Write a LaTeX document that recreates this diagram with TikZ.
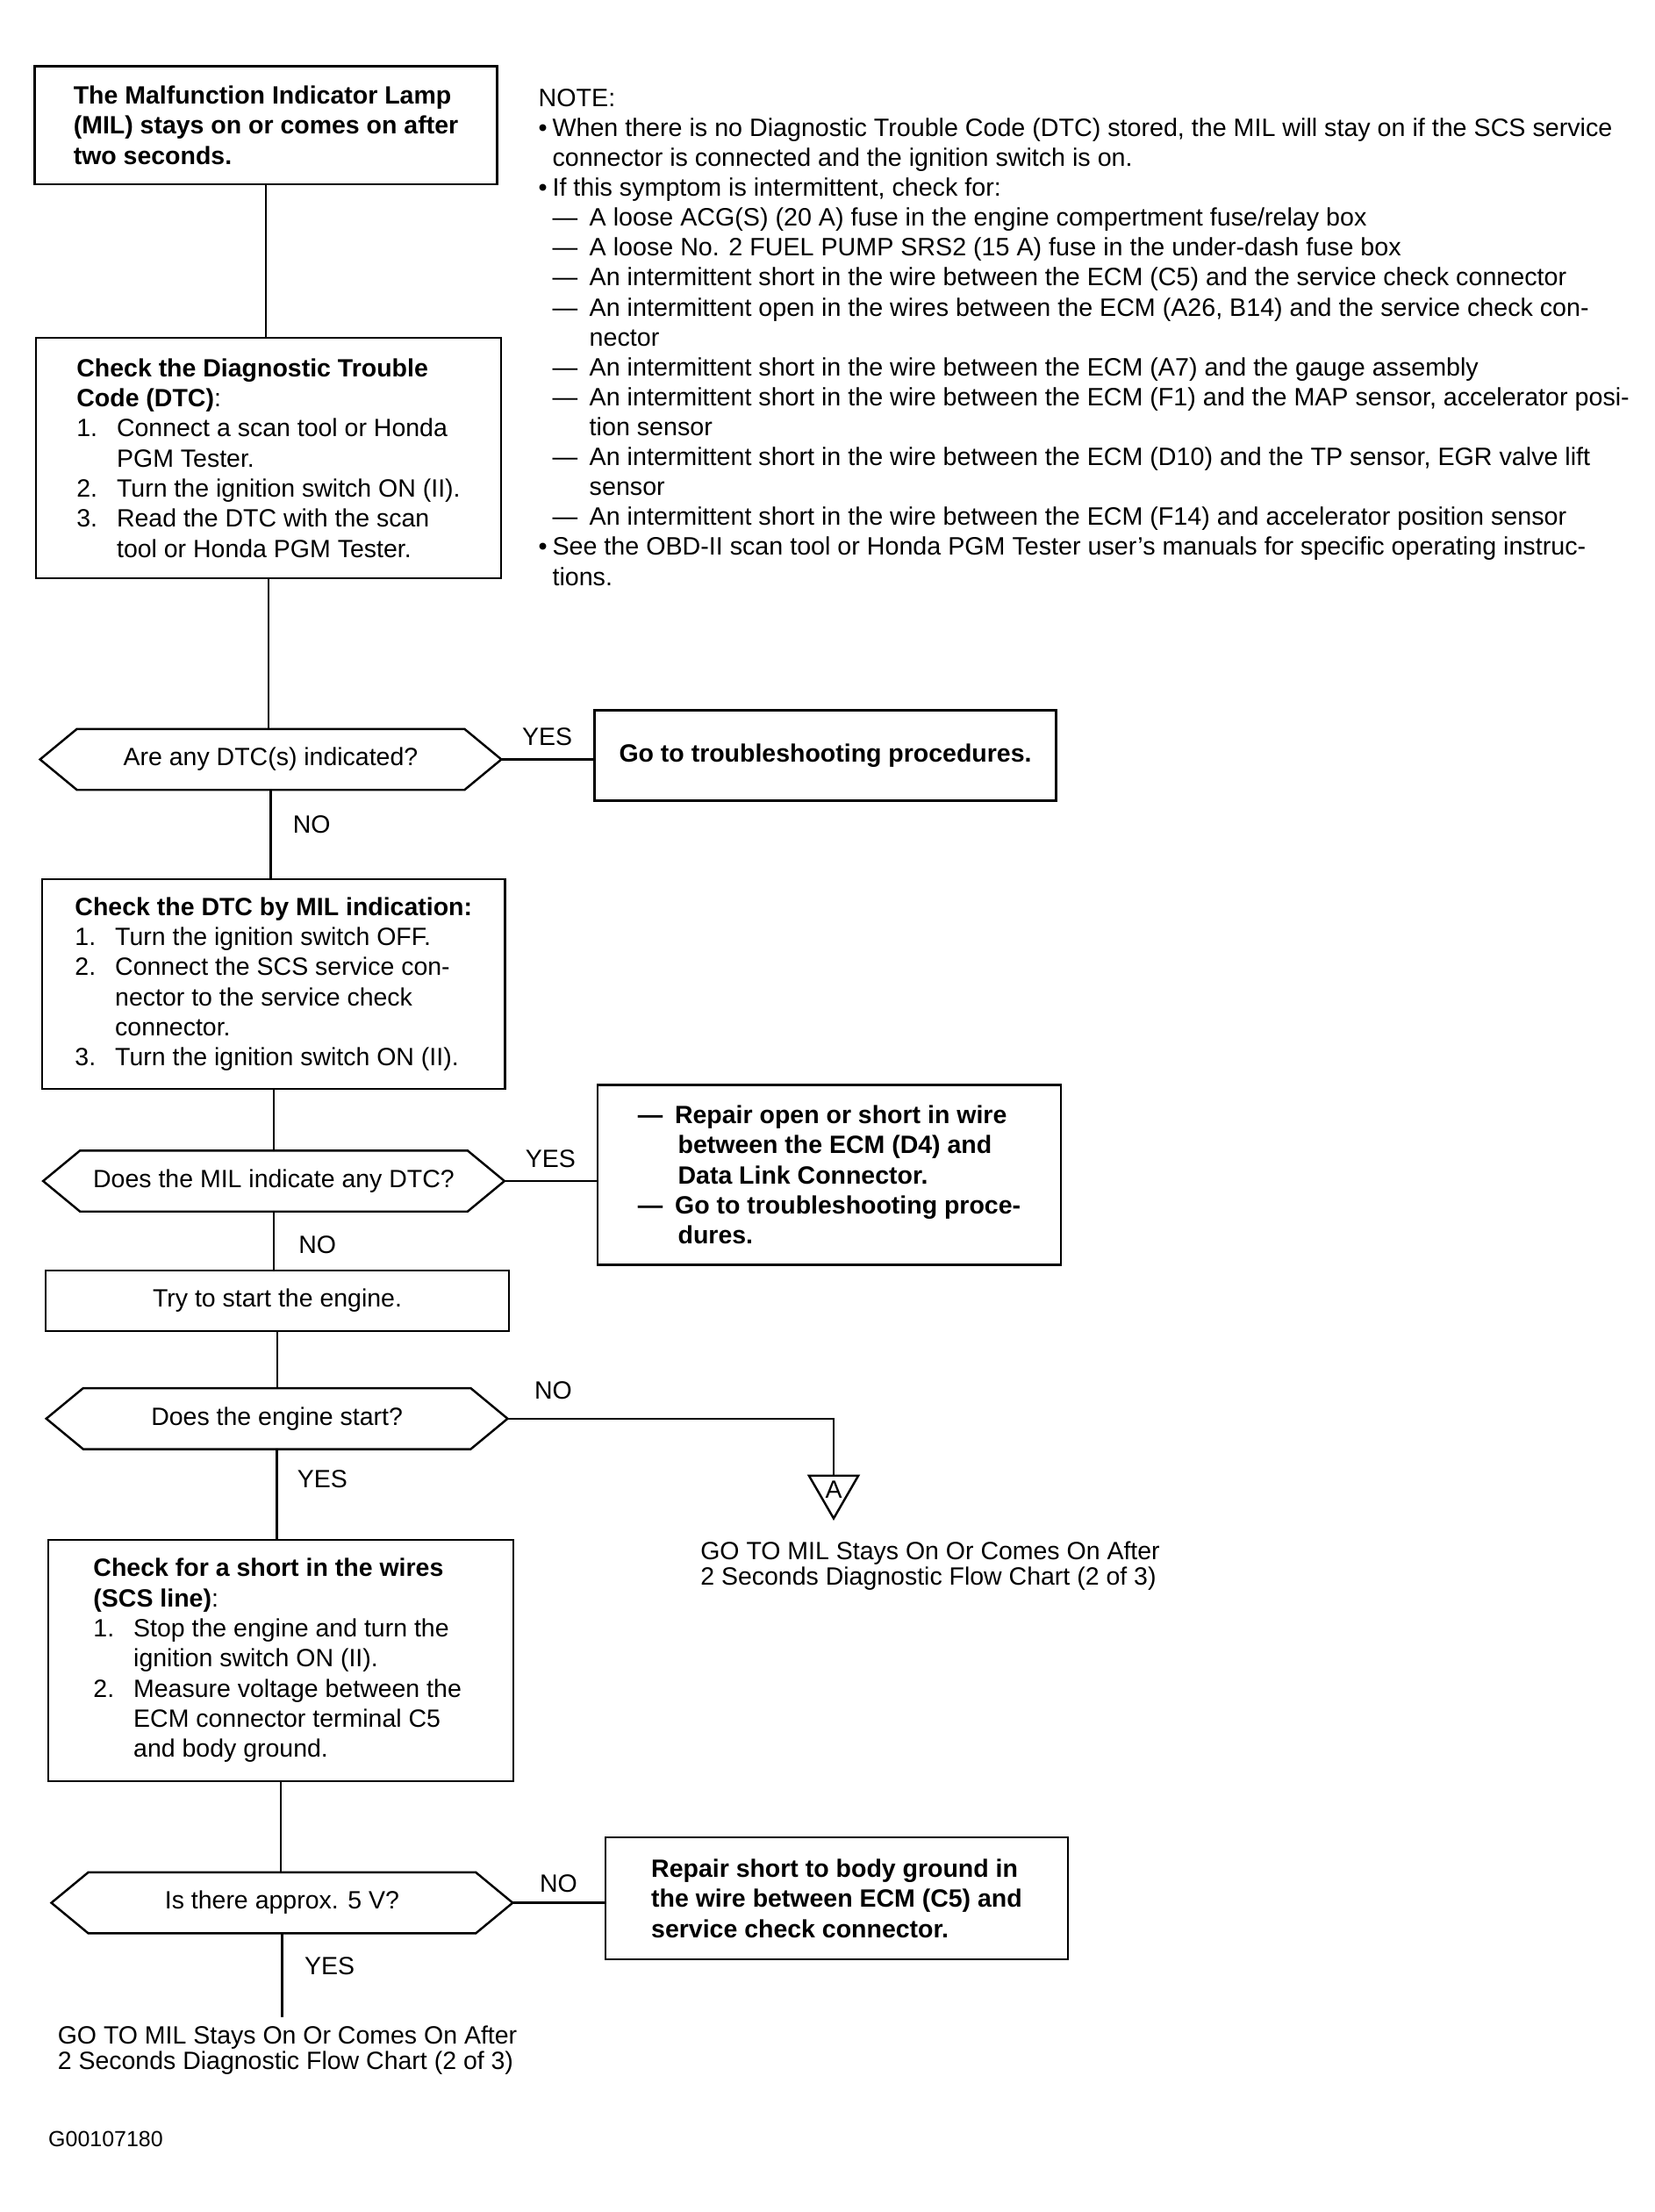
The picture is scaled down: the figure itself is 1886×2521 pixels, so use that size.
\documentclass[tikz,border=0pt]{standalone}
\usepackage{fontspec}
\setmainfont{Liberation Sans}
\usepackage{tikz}
\usetikzlibrary{positioning, shapes.geometric}

\newcommand{\chartsize}{\fontsize{8.1pt}{9.76pt}\selectfont}
\newcommand{\stepno}[1]{\makebox[13pt][l]{#1}}
\newcommand{\stepgap}{\hspace*{13pt}}
\newcommand{\dashmark}{\makebox[12pt][l]{---}}
\newcommand{\bul}{\makebox[4.5pt][l]{•}}
\newcommand{\bulgap}{\hspace*{4.5pt}}
\newcommand{\notedash}{\bulgap\makebox[12pt][l]{---}}
\newcommand{\notegap}{\hspace*{16.5pt}}
\newcommand{\slant}{0.42cm}
% hexagon frame round a question node, plus its right tip
\newcommand{\hexframe}[1]{%
  \draw[flow] (#1.north west) -- (#1.north east) -- ([xshift=\slant]#1.east)
    -- (#1.south east) -- (#1.south west) -- ([xshift=-\slant]#1.west) -- cycle;
  \coordinate (#1tip) at ([xshift=\slant]#1.east);}

\tikzset{
  every node/.style={font=\chartsize},
  flow/.style={line width=0.7pt},
  box/.style={draw, flow, rectangle, inner sep=0pt, align=left},
  plainbox/.style={box, align=center},
  quest/.style={rectangle, inner sep=0pt, minimum width=4.4cm, minimum height=0.68cm, align=center},
  answer/.style={inner sep=2pt},
  jump/.style={draw, flow, regular polygon, regular polygon sides=3, shape border rotate=180,
    minimum size=0.65cm, inner sep=0pt},
  gototext/.style={align=left, inner sep=0.1cm, font=\fontsize{8.1pt}{8.2pt}\selectfont},
}

\begin{document}
\begin{tikzpicture}[x=0.01cm, y=-0.01cm]
\useasboundingbox (0,0) rectangle (1886,2521);

% start box
\node[box, minimum width=5.27cm, minimum height=1.344cm, font=\chartsize\bfseries] (lamp) at (303,142.6)
  {The Malfunction Indicator Lamp\\(MIL) stays on or comes on after\\two seconds.};

% note block
\node[align=left, inner sep=0pt, anchor=north west, font=\fontsize{8.15pt}{9.7pt}\selectfont] (note) at (613,100.5)
  {NOTE:\\
   \bul When there is no Diagnostic Trouble Code (DTC) stored, the MIL will stay on if the SCS service\\
   \bulgap connector is connected and the ignition switch is on.\\
   \bul If this symptom is intermittent, check for:\\
   \notedash A loose ACG(S) (20 A) fuse in the engine compertment fuse/relay box\\
   \notedash A loose No. 2 FUEL PUMP SRS2 (15 A) fuse in the under-dash fuse box\\
   \notedash An intermittent short in the wire between the ECM (C5) and the service check connector\\
   \notedash An intermittent open in the wires between the ECM (A26, B14) and the service check con-\\
   \notegap nector\\
   \notedash An intermittent short in the wire between the ECM (A7) and the gauge assembly\\
   \notedash An intermittent short in the wire between the ECM (F1) and the MAP sensor, accelerator posi-\\
   \notegap tion sensor\\
   \notedash An intermittent short in the wire between the ECM (D10) and the TP sensor, EGR valve lift\\
   \notegap sensor\\
   \notedash An intermittent short in the wire between the ECM (F14) and accelerator position sensor\\
   \bul See the OBD-II scan tool or Honda PGM Tester user’s manuals for specific operating instruc-\\
   \bulgap tions.};

% read the DTC
\node[box, minimum width=5.30cm, minimum height=2.74cm] (dtcread) at (306,522)
  {\textbf{Check the Diagnostic Trouble}\\\textbf{Code (DTC)}:\\
   \stepno{1.}Connect a scan tool or Honda\\\stepgap PGM Tester.\\
   \stepno{2.}Turn the ignition switch ON (II).\\
   \stepno{3.}Read the DTC with the scan\\\stepgap tool or Honda PGM Tester.};

% first question
\node[quest] (q1) at (308.5,865.5) {Are any DTC(s) indicated?};
\hexframe{q1}
\node[plainbox, minimum width=5.26cm, minimum height=1.03cm, font=\chartsize\bfseries] (gotrouble) at (940.5,861)
  {Go to troubleshooting procedures.};

% MIL indication
\node[box, minimum width=5.275cm, minimum height=2.39cm] (milcheck) at (311.8,1121.5)
  {\textbf{Check the DTC by MIL indication:}\\
   \stepno{1.}Turn the ignition switch OFF.\\
   \stepno{2.}Connect the SCS service con-\\\stepgap nector to the service check\\\stepgap connector.\\
   \stepno{3.}Turn the ignition switch ON (II).};

% second question
\node[quest] (q2) at (312,1346) {Does the MIL indicate any DTC?};
\hexframe{q2}
\node[box, minimum width=5.275cm, minimum height=2.05cm, font=\chartsize\bfseries] (repairdlc) at (945,1339)
  {\dashmark Repair open or short in wire\\\stepgap between the ECM (D4) and\\\stepgap Data Link Connector.\\
   \dashmark Go to troubleshooting proce-\\\stepgap dures.};

% engine start
\node[plainbox, minimum width=5.28cm, minimum height=0.69cm] (trystart) at (316,1482.5) {Try to start the engine.};
\node[quest] (q3) at (315.6,1616.8) {Does the engine start?};
\hexframe{q3}
\node[jump] (jumpA) at (950,1698) {A};
\node[gototext] (gotop) at (1060,1785)
  {GO TO MIL Stays On Or Comes On After\\2 Seconds Diagnostic Flow Chart (2 of 3)};

% SCS line check
\node[box, minimum width=5.296cm, minimum height=2.75cm] (shortcheck) at (320,1892.5)
  {\textbf{Check for a short in the wires}\hspace*{8pt}\\\textbf{(SCS line)}:\\
   \stepno{1.}Stop the engine and turn the\\\stepgap ignition switch ON (II).\\
   \stepno{2.}Measure voltage between the\\\stepgap ECM connector terminal C5\\\stepgap and body ground.};

% last question
\node[quest] (q4) at (321.4,2168.6) {Is there approx. 5 V?};
\hexframe{q4}
\node[box, minimum width=5.27cm, minimum height=1.39cm, font=\chartsize\bfseries] (repairgnd) at (953.5,2163.5)
  {Repair short to body ground in\\the wire between ECM (C5) and\\service check connector.};
\node[gototext] (gobottom) at (327.5,2337)
  {GO TO MIL Stays On Or Comes On After\\2 Seconds Diagnostic Flow Chart (2 of 3)};

\node[inner sep=0pt, font=\fontsize{7.1pt}{8.5pt}\selectfont] (figno) at (120.5,2438) {G00107180};

% connectors
\draw[flow] (lamp.south) -- (lamp.south |- dtcread.north);
\draw[flow] (dtcread.south) -- (dtcread.south |- q1.north);
\draw[flow] (q1tip) -- node[answer, midway, above=2pt] (yes1) {YES} (q1tip -| gotrouble.west);
\draw[flow] (q1.south) -- node[answer, pos=0.39, right=0.17cm] (no1) {NO} (q1.south |- milcheck.north);
\draw[flow] (milcheck.south) -- (milcheck.south |- q2.north);
\draw[flow] (q2tip) -- node[answer, midway, above=2pt] (yes2) {YES} (q2tip -| repairdlc.west);
\draw[flow] (q2.south) -- node[answer, pos=0.57, right=0.2cm] (no2) {NO} (q2.south |- trystart.north);
\draw[flow] (trystart.south) -- (trystart.south |- q3.north);
\draw[flow] (q3tip) -- node[answer, pos=0.14, above=4pt] (no3) {NO} (q3tip -| jumpA.north) -- (jumpA.north);
\draw[flow] (q3.south) -- node[answer, pos=0.33, right=0.15cm] (yes3) {YES} (q3.south |- shortcheck.north);
\draw[flow] (shortcheck.south) -- (shortcheck.south |- q4.north);
\draw[flow] (q4tip) -- node[answer, midway, above=1pt] (no4) {NO} (q4tip -| repairgnd.west);
\draw[flow] (q4.south) -- node[answer, pos=0.39, right=0.175cm] (yes4) {YES} (q4.south |- gobottom.north);

\end{tikzpicture}
\end{document}
